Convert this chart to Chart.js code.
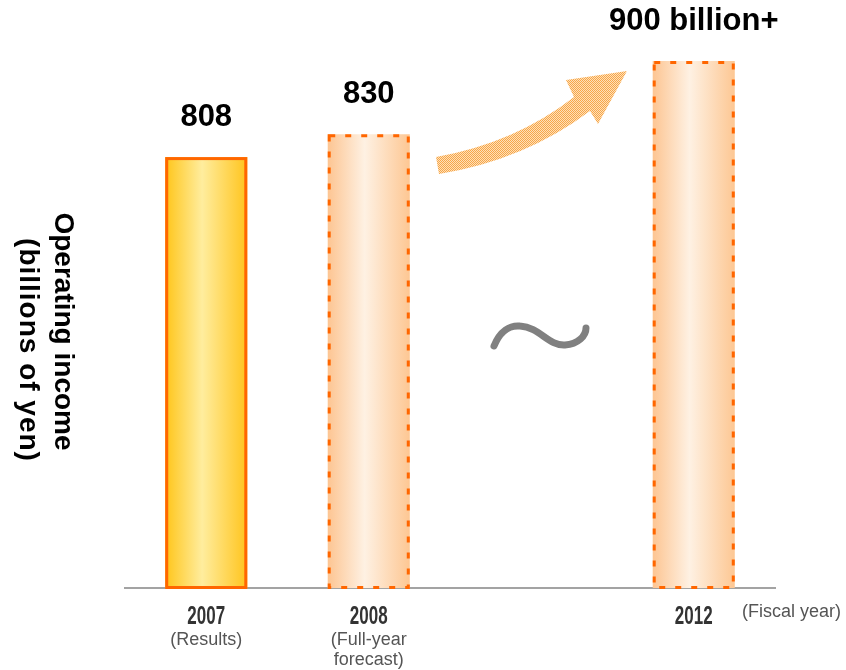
<!DOCTYPE html>
<html>
<head>
<meta charset="utf-8">
<script src="https://cdn.jsdelivr.net/npm/chart.js@4.4.0/dist/chart.umd.min.js"></script>
<style>
  body { margin: 0; background: #fff; }
  #wrap { width: 846px; height: 670px; }
</style>
</head>
<body>
<div id="wrap"><canvas id="incomeChart" width="846" height="670"></canvas></div>
<script>
const years = ["2007", "2008", "", "2012"];
const yearNotes = [["(Results)"], ["(Full-year", "forecast)"], [], []];
const operatingIncome = [808, 830, null, 900];
const valueLabels = ["808", "830", "", "900 billion+"];
const isForecast = [false, true, false, true];
const yTitle = ["Operating income", "(billions of yen)"];
const xNote = "(Fiscal year)";

const Y_MIN = 395;
const Y_MAX = 949;
const BAR_PCT = 0.505;

function barGradient(c) {
  const chart = c.chart;
  const x = chart.scales.x;
  const fallback = isForecast[c.dataIndex] ? "#fdd9b5" : "#ffdc5e";
  if (!x || !chart.chartArea) return fallback;
  const cx = x.getPixelForValue(c.dataIndex);
  const half = (x.width / years.length) * BAR_PCT / 2;
  if (!Number.isFinite(cx) || !Number.isFinite(half) || half <= 0) return fallback;
  const g = chart.ctx.createLinearGradient(cx - half, 0, cx + half, 0);
  if (isForecast[c.dataIndex]) {
    g.addColorStop(0, "#fdc592");
    g.addColorStop(0.45, "#fef1e3");
    g.addColorStop(1, "#fdc793");
  } else {
    g.addColorStop(0, "#ffc519");
    g.addColorStop(0.45, "#ffed9e");
    g.addColorStop(1, "#ffc41c");
  }
  return g;
}

// borders, value labels, axis texts, arrow and tilde
const decorations = {
  id: "decorations",
  afterDatasetsDraw(chart) {
    const ctx = chart.ctx;
    const meta = chart.getDatasetMeta(0);
    const x = chart.scales.x;
    const bottom = chart.chartArea.bottom;

    meta.data.forEach((bar, i) => {
      if (operatingIncome[i] == null) return;
      const p = bar.getProps(["x", "y", "base", "width"], true);
      const l = p.x - p.width / 2 + 1.5;
      const r = p.x + p.width / 2 - 1.5;
      ctx.save();
      ctx.strokeStyle = "#ff6600";
      ctx.lineWidth = 3;
      ctx.setLineDash(isForecast[i] ? [6, 10] : []);
      ctx.strokeRect(l, p.y + 1.5, r - l, p.base - p.y - 2);
      ctx.restore();

      ctx.save();
      ctx.fillStyle = "#000";
      ctx.font = "bold 31px 'Liberation Sans', Arial, sans-serif";
      ctx.textAlign = "center";
      ctx.textBaseline = "middle";
      ctx.fillText(valueLabels[i], p.x, p.y - 40);
      ctx.restore();
    });

    // year labels, condensed like the original
    years.forEach((t, i) => {
      if (!t) return;
      ctx.save();
      ctx.translate(x.getPixelForValue(i), bottom + 29);
      ctx.scale(0.68, 1);
      ctx.fillStyle = "#333";
      ctx.font = "bold 25px 'Liberation Sans', Arial, sans-serif";
      ctx.textAlign = "center";
      ctx.textBaseline = "middle";
      ctx.fillText(t, 0, 0);
      ctx.restore();
    });

    // notes under the years
    ctx.save();
    ctx.fillStyle = "#555";
    ctx.font = "18px 'Liberation Sans', Arial, sans-serif";
    ctx.textAlign = "center";
    ctx.textBaseline = "middle";
    yearNotes.forEach((lines, i) => {
      lines.forEach((t, k) => {
        ctx.fillText(t, x.getPixelForValue(i), bottom + 52 + k * 20);
      });
    });
    ctx.textAlign = "left";
    ctx.fillText(xNote, 742, 612);
    ctx.restore();

    // y title, reads top to bottom
    const titlePos = [[62.5, 331.5, "0px"], [27.5, 350, "1px"]];
    yTitle.forEach((t, k) => {
      ctx.save();
      ctx.fillStyle = "#000";
      ctx.font = "bold 28px 'Liberation Sans', Arial, sans-serif";
      ctx.letterSpacing = titlePos[k][2];
      ctx.textAlign = "center";
      ctx.textBaseline = "middle";
      ctx.translate(titlePos[k][0], titlePos[k][1]);
      ctx.rotate(Math.PI / 2);
      ctx.fillText(t, 0, 0);
      ctx.restore();
    });

    // dithered rising arrow
    const pc = document.createElement("canvas");
    pc.width = 2;
    pc.height = 2;
    const pctx = pc.getContext("2d");
    pctx.fillStyle = "#ffe0b8";
    pctx.fillRect(0, 0, 2, 2);
    pctx.fillStyle = "#f6a64a";
    pctx.fillRect(0, 0, 1, 1);
    pctx.fillRect(1, 1, 1, 1);
    ctx.save();
    ctx.fillStyle = ctx.createPattern(pc, "repeat");
    ctx.beginPath();
    ctx.moveTo(436, 157);
    ctx.quadraticCurveTo(515, 143, 574, 97);
    ctx.lineTo(566, 80);
    ctx.lineTo(627, 71);
    ctx.lineTo(598, 124);
    ctx.lineTo(590, 111);
    ctx.quadraticCurveTo(525, 160, 439, 174);
    ctx.closePath();
    ctx.fill();
    ctx.restore();

    // tilde in the gap
    ctx.save();
    ctx.strokeStyle = "#808080";
    ctx.lineWidth = 7;
    ctx.lineCap = "round";
    ctx.beginPath();
    ctx.moveTo(494, 346);
    ctx.bezierCurveTo(500, 331, 510, 325, 520, 326);
    ctx.bezierCurveTo(540, 327, 548, 346, 565, 345);
    ctx.bezierCurveTo(578, 344, 586, 336, 586, 328);
    ctx.stroke();
    ctx.restore();
  },
};

new Chart(document.getElementById("incomeChart"), {
  type: "bar",
  data: {
    labels: years,
    datasets: [
      {
        data: operatingIncome,
        base: Y_MIN,
        backgroundColor: barGradient,
        borderWidth: 0,
        barPercentage: BAR_PCT,
        categoryPercentage: 1,
      },
    ],
  },
  options: {
    responsive: false,
    animation: false,
    layout: {
      padding: { top: 10, left: 125, right: 71, bottom: 82 },
    },
    plugins: {
      legend: { display: false },
      tooltip: { enabled: false },
    },
    scales: {
      x: {
        z: 1,
        grid: { display: false, drawTicks: false },
        border: { display: true, color: "#a3a3a3", width: 2 },
        ticks: { display: false },
      },
      y: {
        display: false,
        min: Y_MIN,
        max: Y_MAX,
      },
    },
  },
  plugins: [decorations],
});
</script>
</body>
</html>
